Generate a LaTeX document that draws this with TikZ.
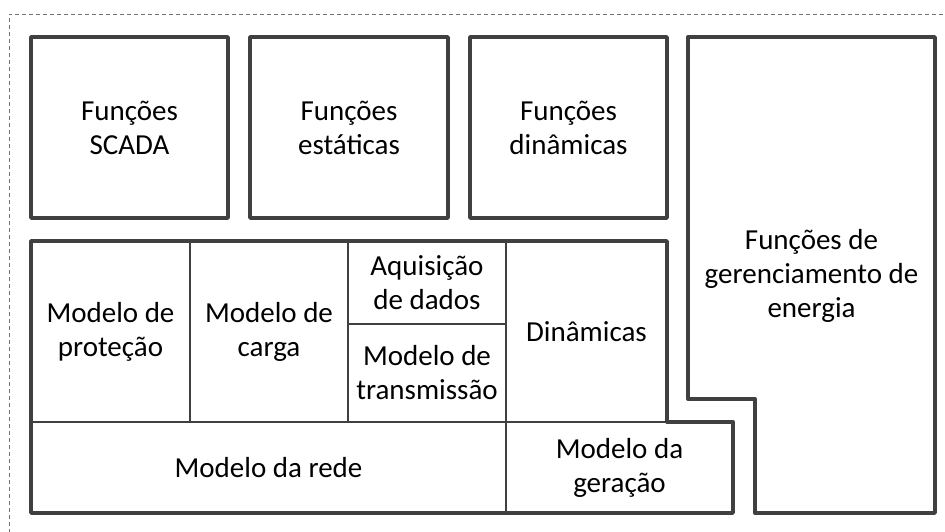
\documentclass[tikz,border=0pt]{standalone}
\usepackage{fontspec}
\setmainfont{Carlito}
\begin{document}
\begin{tikzpicture}[x=1pt,y=-1pt,
  thickbox/.style={draw=black!75, line width=3.4pt, line join=round},
  thinline/.style={draw=black!75, line width=1.3pt},
  lbl/.style={align=center, font=\fontsize{29}{34}\selectfont, text=black, inner sep=0pt}]
\useasboundingbox (0,0) rectangle (945,531);
% dashed outer frame (runs off the right and bottom)
\draw[black!55, line width=0.9pt, dash pattern=on 4pt off 3pt] (9,540) -- (9,14) -- (950,14);
% top boxes
\draw[thickbox] (31,37) rectangle (228,218);
\draw[thickbox] (250,37) rectangle (448,218);
\draw[thickbox] (470,37) rectangle (667,218);
% energy management box
\draw[thickbox] (688,37) -- (935,37) -- (935,513) -- (755,513) -- (755,399) -- (688,399) -- cycle;
% bottom-left model block
\draw[thinline] (190,241) -- (190,422);
\draw[thinline] (348,241) -- (348,422);
\draw[thinline] (506,241) -- (506,513);
\draw[thinline] (31,422) -- (667,422);
\draw[thinline] (348,324) -- (506,324);
\draw[thickbox] (31,241) -- (667,241) -- (667,422) -- (733,422) -- (733,513) -- (31,513) -- cycle;
% labels
\node[lbl] (scada) at (129.5,127.5) {Funções\\SCADA};
\node[lbl] (est) at (349,127.5) {Funções\\estáticas};
\node[lbl] (din) at (568.5,127.5) {Funções\\dinâmicas};
\node[lbl] (gen) at (811.5,276) {Funções de\\gerenciamento de\\energia};
\node[lbl] (prot) at (110.5,332) {Modelo de\\proteção};
\node[lbl] (carga) at (269,332) {Modelo de\\carga};
\node[lbl] (aq) at (427,282.5) {Aquisição\\de dados};
\node[lbl] (trans) at (427,373) {Modelo de\\transmissão};
\node[lbl] (dinm) at (586.5,332) {Dinâmicas};
\node[lbl] (rede) at (268.5,467.5) {Modelo da rede};
\node[lbl] (ger) at (619.5,467.5) {Modelo da\\geração};
\end{tikzpicture}
\end{document}
